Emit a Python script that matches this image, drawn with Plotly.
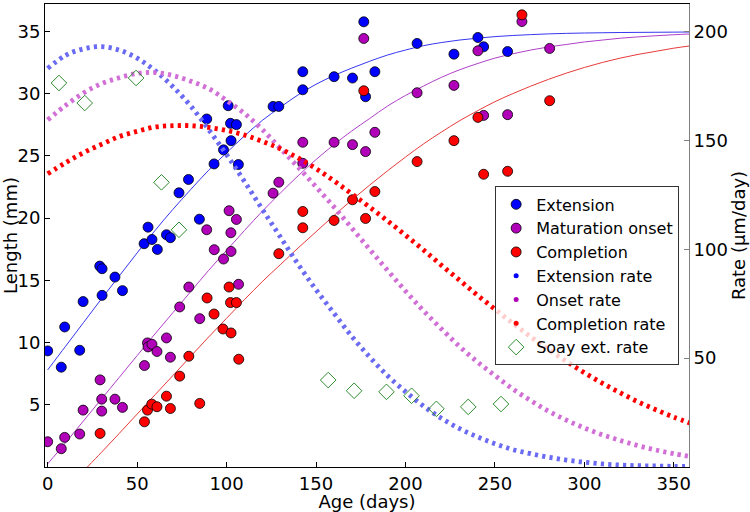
import plotly.graph_objects as go

# ---------------- data ----------------
# scatter measurements (Length, mm)
ext_age = [0, 7.6, 9.5, 17.9, 19.8, 29.1, 30.4, 30.4, 37.6, 41.8, 53.9, 56.1, 58.3, 61.3,
           66.4, 68.6, 73.4, 78.7, 84.8, 88.9, 93.0, 98.3, 100.9, 102.2, 102.5, 105.5, 106.6,
           126.0, 129.2, 142.6, 142.6, 160.1, 170.4, 176.7, 177.7, 182.9, 206.5, 227.1,
           240.5, 243.7, 257.1]
ext_len = [9.33, 8.02, 11.25, 9.38, 13.29, 16.14, 15.93, 13.79, 15.26, 14.17, 17.94, 19.27,
           18.28, 17.48, 18.66, 18.42, 22.03, 23.1, 19.91, 27.96, 24.35, 25.48, 29.03, 27.61,
           26.22, 27.51, 24.3, 28.97, 28.97, 31.76, 30.31, 31.36, 31.25, 35.77, 29.75, 31.76,
           34.03, 33.17, 34.51, 33.76, 33.38]

onset_age = [0, 7.6, 9.5, 17.9, 19.8, 29.3, 30.2, 30.2, 37.6, 41.8, 54.1, 55.8, 56.1, 58.3,
             61.1, 66.4, 68.6, 73.8, 78.9, 85.0, 88.9, 93.1, 98.3, 101.4, 102.4, 102.5, 105.5,
             106.7, 126.0, 129.2, 142.6, 142.6, 160.1, 170.4, 176.7, 177.7, 182.9, 206.5,
             227.1, 240.5, 243.7, 257.1, 265.1, 280.6]
onset_len = [2.03, 1.47, 2.38, 2.65, 4.57, 7.0, 5.45, 4.49, 5.45, 4.79, 8.15, 9.97, 9.65, 9.86,
             9.28, 10.37, 8.82, 12.86, 14.46, 11.92, 19.06, 17.46, 16.71, 20.59, 18.82, 17.32,
             19.89, 14.68, 22.0, 22.88, 26.09, 24.4, 26.09, 25.9, 34.43, 25.34, 26.89, 30.07,
             30.66, 33.44, 28.25, 28.31, 35.79, 33.63]

comp_age = [29.3, 54.1, 55.8, 58.2, 61.1, 66.4, 68.6, 73.8, 78.9, 85.0, 89.1, 93.0, 98.0,
            101.4, 102.2, 102.5, 105.5, 106.8, 129.2, 142.6, 142.6, 160.1, 170.4, 176.7,
            177.7, 182.9, 206.5, 227.1, 240.5, 243.7, 257.1, 265.1, 280.6]
comp_len = [2.7, 3.63, 4.57, 5.05, 4.84, 5.69, 4.7, 7.3, 8.9, 5.11, 13.58, 12.29, 11.09,
            14.46, 13.21, 10.77, 13.21, 8.66, 17.14, 20.53, 19.22, 19.81, 21.47, 30.23,
            19.97, 22.13, 24.54, 26.22, 28.09, 23.52, 23.76, 36.33, 29.43]

# fitted growth curves (Length, mm)
curve_age = [0, 10, 20, 30, 40, 50, 60, 70, 80, 90, 100, 110, 120, 130, 140, 150, 160, 170,
             180, 190, 200, 210, 220, 230, 240, 250, 260, 270, 280, 290, 300, 310, 320, 330,
             340, 350, 360]
ext_fit = [7.8, 9.7, 11.6, 13.5, 15.35, 17.2, 19.0, 20.7, 22.3, 23.85, 25.25, 26.6, 27.85,
           28.9, 29.9, 30.75, 31.45, 32.05, 32.6, 33.1, 33.5, 33.85, 34.1, 34.3, 34.45, 34.58,
           34.67, 34.74, 34.8, 34.84, 34.87, 34.89, 34.91, 34.92, 34.93, 34.94, 34.95]
onset_fit = [0.25, 1.95, 3.7, 5.45, 7.2, 8.95, 10.7, 12.4, 14.1, 15.8, 17.4, 19.0, 20.55,
             22.0, 23.4, 24.7, 25.9, 27.0, 28.0, 29.0, 29.85, 30.6, 31.3, 31.9, 32.4, 32.85,
             33.2, 33.5, 33.75, 33.95, 34.15, 34.3, 34.45, 34.56, 34.65, 34.73, 34.8]
comp_curve_age = [22.2, 30, 40, 50, 60, 70, 80, 90, 100, 110, 120, 130, 140, 150, 160, 170,
                  180, 190, 200, 210, 220, 230, 240, 250, 260, 270, 280, 290, 300, 310, 320,
                  330, 340, 350, 360]
comp_fit = [0.0, 1.17, 2.7, 4.25, 5.8, 7.35, 8.9, 10.45, 11.95, 13.45, 14.9, 16.25, 17.6,
            18.9, 20.2, 21.45, 22.65, 23.8, 24.9, 25.95, 26.9, 27.8, 28.6, 29.35, 30.0, 30.6,
            31.15, 31.65, 32.1, 32.5, 32.85, 33.15, 33.4, 33.65, 33.85]

# growth rates (um/day), same ages as curve_age
ext_rate = [183, 189, 192, 193, 191.4, 187.7, 182, 174.6, 165.7, 154.9, 143.4, 131.1, 118.3,
            105.7, 93.1, 81.4, 70.6, 60, 50.5, 41.9, 34.6, 28, 22.4, 17.7, 13.9, 10.7, 8,
            6.1, 4.5, 3.2, 2.2, 1.4, 0.9, 0.6, 0.45, 0.3, 0.2]
onset_rate = [159.4, 166, 171.7, 176, 178.7, 180.7, 181.1, 179.7, 177.1, 173.7, 168.3, 162.3,
              154.9, 146.3, 137.7, 128.6, 119.4, 109.7, 99.9, 90.3, 80.8, 71.8, 63.5, 55.5,
              48.4, 42, 35.8, 30.5, 25.6, 21.5, 17.9, 14.8, 12.2, 9.8, 7.8, 6.1, 4.7]
comp_rate = [134.6, 139.7, 144.3, 148.1, 151.7, 154.1, 156.1, 156.7, 156.7, 155.9, 154.5,
             152.4, 149.5, 146.1, 141.9, 137, 131.4, 125.4, 119.3, 113, 106.4, 99.7, 92.7,
             85.9, 79, 72.5, 66, 59.8, 53.8, 48.5, 43.3, 38.5, 34.1, 29.9, 26.3, 22.9, 19.9]

# Soay sheep extension rate (um/day)
soay_age = [6.3, 20.7, 49.4, 63.6, 73.4, 156.8, 171.3, 189.4, 203.4, 217.3, 235.1, 253.4]
soay_rate = [176.3, 167.1, 178.6, 130.7, 108.9, 39.9, 35.0, 34.5, 32.7, 26.7, 27.6, 28.9]

x_ticks = [0, 50, 100, 150, 200, 250, 300, 350]
len_ticks = [5, 10, 15, 20, 25, 30, 35]
rate_ticks = [50, 100, 150, 200]

# ---------------- figure ----------------
BLUE, MAG, RED = "#0000ff", "#b000b8", "#ff0000"
FONT = "DejaVu Sans"

fig = go.Figure()

# fitted lines
for xs, ys, c in [(curve_age, ext_fit, "#3636f0"), (curve_age, onset_fit, "#b040c8"),
                  (comp_curve_age, comp_fit, "#e83a3a")]:
    fig.add_trace(go.Scatter(x=xs, y=ys, mode="lines", showlegend=False, hoverinfo="skip",
                             line=dict(color=c, width=1, shape="spline")))

# measurements
for xs, ys, c, name, rank in [(ext_age, ext_len, BLUE, "Extension", 1),
                              (onset_age, onset_len, MAG, "Maturation onset", 2),
                              (comp_age, comp_len, RED, "Completion", 3)]:
    fig.add_trace(go.Scatter(x=xs, y=ys, mode="markers", name=name, legendrank=rank,
                             marker=dict(color=c, size=10, line=dict(color="black", width=0.8))))

# rates (dotted) on right axis
for ys, c in [(ext_rate, "#6a6af2"), (onset_rate, "#d16fd6"), (comp_rate, "#ff0000")]:
    fig.add_trace(go.Scatter(x=curve_age, y=ys, yaxis="y2", mode="lines", showlegend=False,
                             hoverinfo="skip",
                             line=dict(color=c, width=4.8, dash="3.2px,4.2px", shape="spline")))

# legend entries for rates
for c, name, rank in [(BLUE, "Extension rate", 4), (MAG, "Onset rate", 5),
                      (RED, "Completion rate", 6)]:
    fig.add_trace(go.Scatter(x=[None], y=[None], yaxis="y2", mode="markers", name=name,
                             legendrank=rank, marker=dict(color=c, size=5)))

fig.add_trace(go.Scatter(x=soay_age, y=soay_rate, yaxis="y2", mode="markers",
                         name="Soay ext. rate", legendrank=7,
                         marker=dict(symbol="diamond-open", size=12, color="#2e8b2e",
                                     line=dict(width=1, color="#2e8b2e"))))

axis_common = dict(showgrid=False, zeroline=False, ticks="inside", ticklen=5,
                   showline=True, linewidth=1,
                   tickfont=dict(family=FONT, size=18, color="black"))

fig.update_layout(
    width=750, height=512,
    margin=dict(l=45, r=61, t=4, b=45),
    paper_bgcolor="white", plot_bgcolor="white",
    font=dict(family=FONT, color="black"),
    xaxis=dict(range=[-1.5, 358.5], tickvals=x_ticks, linecolor="black", mirror=True,
               tickcolor="black",
               title=dict(text="Age (days)", font=dict(family=FONT, size=18), standoff=2),
               **axis_common),
    yaxis=dict(range=[0, 37.2], tickvals=len_ticks, linecolor="black", tickcolor="black",
               title=dict(text="Length (mm)", font=dict(family=FONT, size=18), standoff=2),
               **axis_common),
    yaxis2=dict(range=[0, 37.2 * 200 / 35], tickvals=rate_ticks, overlaying="y", side="right",
                linecolor="#808080", tickcolor="#808080",
                title=dict(text="Rate (µm/day)", font=dict(family=FONT, size=18), standoff=2),
                **axis_common),
    legend=dict(x=0.699, y=0.606, xanchor="left", yanchor="top",
                bgcolor="rgba(255,255,255,0.8)", bordercolor="#333333", borderwidth=1,
                font=dict(family=FONT, size=16, color="black"), itemwidth=30,
                tracegroupgap=0),
    showlegend=True,
)

fig.write_html("out.html", config={"displayModeBar": False},
               post_script="document.body.style.margin='0';document.body.style.overflow='hidden';")
